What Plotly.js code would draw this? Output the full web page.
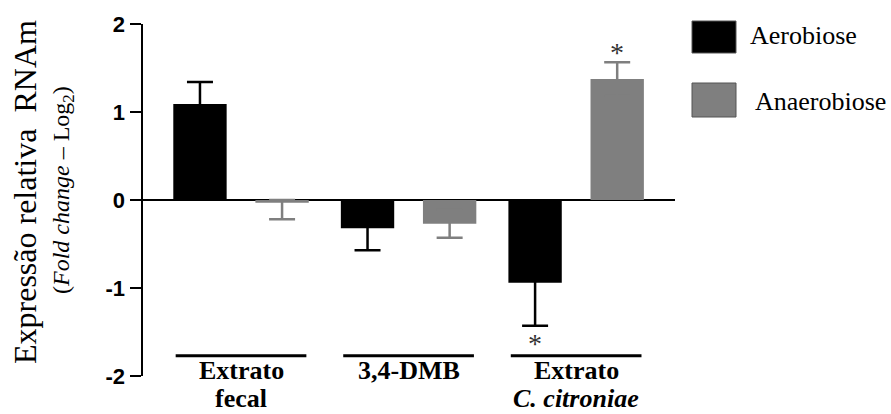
<!DOCTYPE html>
<html>
<head>
<meta charset="utf-8">
<script src="https://cdn.plot.ly/plotly-3.0.1.min.js"></script>
<style>html,body{margin:0;padding:0;background:#fff;}#chart{width:891px;height:414px;}</style>
</head>
<body>
<div id="chart"></div>
<script>
var groups = ["Extrato fecal", "3,4-DMB", "Extrato C. citroniae"];
var labelLine1 = ["Extrato", "3,4-DMB", "Extrato"];
var labelLine2 = ["fecal", "", "<i>C. citroniae</i>"];
var seriesNames = ["Aerobiose", "Anaerobiose"];
var aeroValues = [1.09, -0.32, -0.94];
var aeroErr = [0.25, 0.25, 0.49];
var anaeroValues = [-0.03, -0.27, 1.375];
var anaeroErr = [0.19, 0.16, 0.19];
var aeroStars = [false, false, true];
var anaeroStars = [false, false, true];
var yTicks = [-2, -1, 0, 1, 2];

var BLACK = "#000000", GRAY = "#7f7f7f";
var seriesColors = [BLACK, GRAY];
var serif = "'Liberation Serif', 'Times New Roman', Times, serif";
var sans = "'Liberation Sans', Arial, sans-serif";

// outer side carries the error; inner side stays hidden inside the bar
function errUp(v, e) { return v.map(function (d, i) { return d >= 0 ? e[i] : Math.min(e[i], -d); }); }
function errDown(v, e) { return v.map(function (d, i) { return d < 0 ? e[i] : Math.min(e[i], d); }); }

function trace(name, vals, errs, color) {
  return {
    type: "bar", name: name, x: groups, y: vals,
    marker: { color: color, line: { width: 0 } },
    error_y: { type: "data", symmetric: false, array: errUp(vals, errs), arrayminus: errDown(vals, errs),
      color: color, thickness: 2.5, width: 13 },
    showlegend: false, hoverinfo: "skip"
  };
}

var data = [trace(seriesNames[0], aeroValues, aeroErr, seriesColors[0]),
            trace(seriesNames[1], anaeroValues, anaeroErr, seriesColors[1])];

var L = 143, R = 675, T = 24, B = 376;
function px(x) { return (x - L) / (R - L); }
function py(y) { return (B - y) / (B - T); }

var annotations = [], shapes = [];

groups.forEach(function (g, i) {
  shapes.push({ type: "line", xref: "x", yref: "y", x0: i - 0.39, x1: i + 0.39, y0: -1.77, y1: -1.77,
    line: { color: BLACK, width: 3 } });
  annotations.push({ xref: "x", yref: "paper", x: i, y: py(387), xanchor: "center", yanchor: "bottom", showarrow: false,
    text: "<b>" + labelLine1[i] + "</b>", font: { family: serif, size: 26, color: BLACK } });
  if (labelLine2[i]) annotations.push({ xref: "x", yref: "paper", x: i, y: py(415), xanchor: "center", yanchor: "bottom", showarrow: false,
    text: "<b>" + labelLine2[i] + "</b>", font: { family: serif, size: 26, color: BLACK } });
});

function addStars(vals, errs, stars, shift) {
  vals.forEach(function (v, i) {
    if (!stars[i]) return;
    var end = v >= 0 ? v + errs[i] : v - errs[i];
    annotations.push({ xref: "x", yref: "y", x: i, xshift: shift, y: end, showarrow: false,
      xanchor: "center", yanchor: v >= 0 ? "bottom" : "top", yshift: v >= 0 ? -8 : 0,
      text: "*", font: { family: serif, size: 28, color: "#333" } });
  });
}
addStars(aeroValues, aeroErr, aeroStars, -41);
addStars(anaeroValues, anaeroErr, anaeroStars, 41);

annotations.push({ xref: "paper", yref: "paper", x: px(25), y: py(192), xanchor: "center", yanchor: "middle",
  textangle: -90, showarrow: false,
  text: "Expressão relativa  RNAm", font: { family: serif, size: 32, color: BLACK } });
annotations.push({ xref: "paper", yref: "paper", x: px(63), y: py(190), xanchor: "center", yanchor: "middle",
  textangle: -90, showarrow: false,
  text: "(<i>Fold change</i> – Log<sub>2</sub>)", font: { family: serif, size: 24, color: BLACK } });

// legend (drawn by hand to match the large swatches)
var swatchTop = [21, 83], swatchBottom = [53, 117], legendTextX = [748, 753], legendTextY = [35, 101];
seriesNames.forEach(function (name, k) {
  shapes.push({ type: "rect", xref: "paper", yref: "paper", x0: px(692), x1: px(736),
    y0: py(swatchBottom[k]), y1: py(swatchTop[k]), fillcolor: seriesColors[k], line: { color: "#555", width: 1 } });
  annotations.push({ xref: "paper", yref: "paper", x: px(legendTextX[k]), y: py(legendTextY[k]),
    xanchor: "left", yanchor: "middle", showarrow: false, text: name,
    font: { family: serif, size: 26, color: BLACK } });
});

var layout = {
  width: 891, height: 414,
  margin: { l: L, r: 891 - R, t: T, b: 414 - B, pad: 0 },
  paper_bgcolor: "#fff", plot_bgcolor: "#fff",
  barmode: "group", bargap: 0.02, bargroupgap: 0.35,
  xaxis: { type: "category", range: [-0.585, 2.59], visible: false, fixedrange: true },
  yaxis: { range: [-2, 2], tickvals: yTicks, ticktext: yTicks.map(String), showgrid: false,
    showline: true, linecolor: BLACK, linewidth: 2.5, ticks: "outside", ticklen: 11, tickwidth: 2.5, tickcolor: BLACK,
    zeroline: true, zerolinecolor: BLACK, zerolinewidth: 2.5,
    tickfont: { family: sans, size: 22, color: BLACK, weight: "bold" } },
  shapes: shapes, annotations: annotations, showlegend: false
};

Plotly.newPlot("chart", data, layout, { staticPlot: true, displayModeBar: false });
</script>
</body>
</html>
